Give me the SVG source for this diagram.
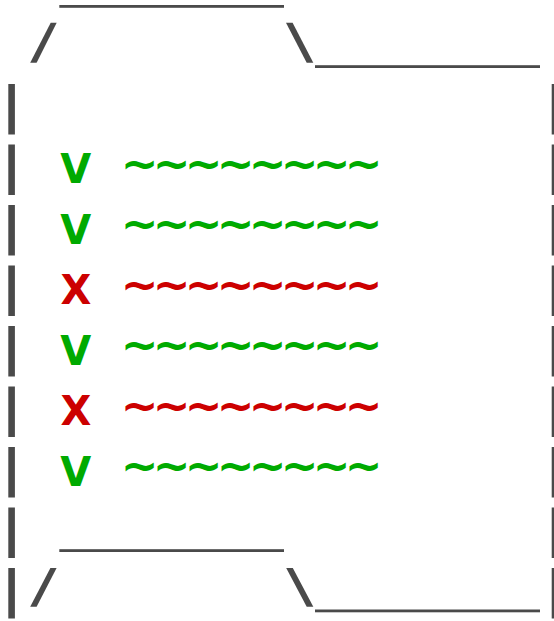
<svg xmlns="http://www.w3.org/2000/svg" width="554" height="621" viewBox="0 0 554 621">
<style>
.fr{fill:#4a4a4a}
.mk{font-family:"DejaVu Sans",sans-serif;font-weight:bold;font-size:40px;text-anchor:middle}
.tl{font-size:45px}
.ok{fill:#00aa00}
.no{fill:#cc0000}
</style>
<defs>
<rect id="bar" width="6.6" height="50.5"/>
</defs>
<rect width="554" height="621" fill="#ffffff"/>
<g id="folder" class="fr">
<rect x="59.3" y="5" width="224.7" height="2.8"/>
<polygon points="50.7,22.7 56.7,22.7 36.6,62.7 30.2,62.7"/>
<polygon points="286,22.7 292.6,22.7 313.3,62.7 306.7,62.7"/>
<rect x="315" y="65.2" width="225" height="2.8"/>
<use href="#bar" x="8.3" y="84"/>
<use href="#bar" x="8.3" y="144.5"/>
<use href="#bar" x="8.3" y="205"/>
<use href="#bar" x="8.3" y="265.5"/>
<use href="#bar" x="8.3" y="326"/>
<use href="#bar" x="8.3" y="386.5"/>
<use href="#bar" x="8.3" y="447"/>
<use href="#bar" x="8.3" y="507.5"/>
<use href="#bar" x="8.3" y="568"/>
<use href="#bar" x="551.7" y="84"/>
<use href="#bar" x="551.7" y="144.5"/>
<use href="#bar" x="551.7" y="205"/>
<use href="#bar" x="551.7" y="265.5"/>
<use href="#bar" x="551.7" y="326"/>
<use href="#bar" x="551.7" y="386.5"/>
<use href="#bar" x="551.7" y="447"/>
<use href="#bar" x="551.7" y="507.5"/>
<use href="#bar" x="551.7" y="568"/>
<rect x="59.3" y="549.2" width="224.7" height="2.8"/>
<polygon points="50.4,568 56.6,568 36.6,606.8 30.2,606.8"/>
<polygon points="286.2,568 292.8,568 313.3,606.8 306.7,606.8"/>
<rect x="315" y="609.5" width="225" height="2.8"/>
</g>
<g id="item-1" class="mk ok"><text x="75.8" y="183.3">V</text><text class="tl" x="139.5 171.5 203.5 235.5 267.5 299.5 331.5 363.5" y="178.6">~~~~~~~~</text></g>
<g id="item-2" class="mk ok"><text x="75.8" y="243.8">V</text><text class="tl" x="139.5 171.5 203.5 235.5 267.5 299.5 331.5 363.5" y="239.1">~~~~~~~~</text></g>
<g id="item-3" class="mk no"><text x="75.8" y="304.3">X</text><text class="tl" x="139.5 171.5 203.5 235.5 267.5 299.5 331.5 363.5" y="299.6">~~~~~~~~</text></g>
<g id="item-4" class="mk ok"><text x="75.8" y="364.8">V</text><text class="tl" x="139.5 171.5 203.5 235.5 267.5 299.5 331.5 363.5" y="360.1">~~~~~~~~</text></g>
<g id="item-5" class="mk no"><text x="75.8" y="425.3">X</text><text class="tl" x="139.5 171.5 203.5 235.5 267.5 299.5 331.5 363.5" y="420.6">~~~~~~~~</text></g>
<g id="item-6" class="mk ok"><text x="75.8" y="485.8">V</text><text class="tl" x="139.5 171.5 203.5 235.5 267.5 299.5 331.5 363.5" y="481.1">~~~~~~~~</text></g>
</svg>
